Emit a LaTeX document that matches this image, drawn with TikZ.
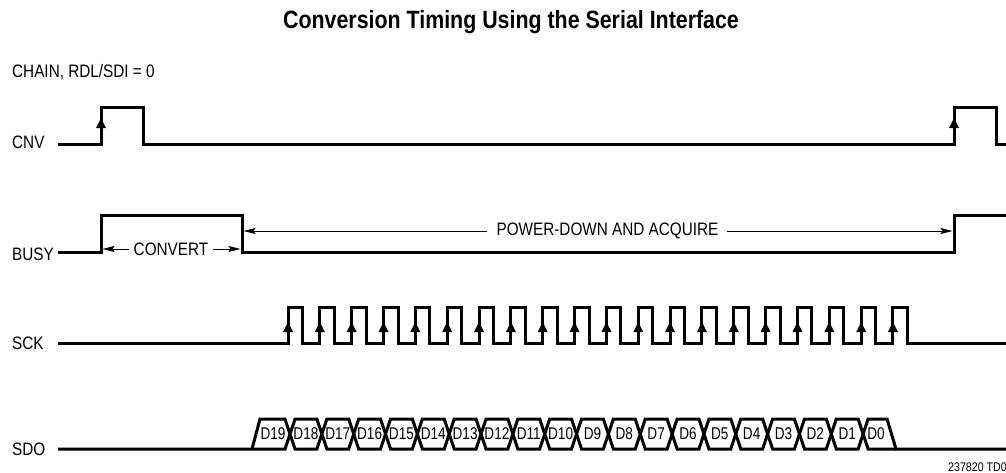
\documentclass[tikz,border=0pt]{standalone}
\usepackage{fontspec}
\setmainfont{Liberation Sans}
\newfontfamily\condf{Liberation Sans}[FakeStretch=0.85]
\newfontfamily\titlef{Liberation Sans}[FakeStretch=0.855]
\newfontfamily\dataf{Liberation Sans}[FakeStretch=0.8]
\usetikzlibrary{arrows.meta}
\begin{document}
\begin{tikzpicture}[x=1pt,y=-1pt,
  sig/.style={line width=3pt, line join=miter},
  dimline/.style={line width=1pt, -{Stealth[length=12pt,width=6pt,inset=2pt]}},
  lbl/.style={anchor=base west, inner sep=0pt, font=\condf\fontsize{18}{20}\selectfont},
  txt/.style={inner sep=0pt, font=\condf\fontsize{18}{20}\selectfont},
  dlbl/.style={inner sep=0pt, font=\dataf\fontsize{17}{18}\selectfont},
  ttl/.style={anchor=base, inner sep=0pt, font=\titlef\bfseries\fontsize{25}{28}\selectfont}]
\useasboundingbox (0,0) rectangle (1006,472);
\clip (0,0) rectangle (1006,472);
\newcommand\redge[2]{\fill (#1,#2) -- ++(-5,10) -- ++(10,0) -- cycle;}

% title and labels
\node[ttl] (title) at (511,28) {Conversion Timing Using the Serial Interface};
\node[lbl] (chain) at (12,77) {CHAIN, RDL/SDI = 0};
\node[lbl] (cnvl) at (12,148) {CNV};
\node[lbl] (busyl) at (12,260) {BUSY};
\node[lbl] (sckl) at (12,349) {SCK};
\node[lbl] (sdol) at (12,455) {SDO};
\node[anchor=base west, inner sep=0pt, font=\condf\fontsize{12.5}{13}\selectfont] (ref) at (948,471) {237820 TD0};

% CNV
\draw[sig] (58,144) -- (101,144) -- (101,107) -- (143,107) -- (143,144) -- (954,144) -- (954,107) -- (996,107) -- (996,144) -- (1010,144);
\redge{101}{118}
\redge{954}{118}

% BUSY
\draw[sig] (58,252) -- (101,252) -- (101,215) -- (242,215) -- (242,252) -- (954,252) -- (954,215) -- (1010,215);
\coordinate (cvL) at (102.5,249);
\coordinate (cvR) at (240.5,249);
\node[txt] (conv) at (171,249) {CONVERT};
\draw[dimline] ([xshift=-5pt]conv.west) -- (cvL);
\draw[dimline] ([xshift=5pt]conv.east) -- (cvR);
\coordinate (pdL) at (243.5,231);
\coordinate (pdR) at (952.5,231);
\node[txt] (pd) at (607.5,231) {POWER-DOWN AND ACQUIRE};
\draw[dimline] ([xshift=-9pt]pd.west) -- (pdL);
\draw[dimline] ([xshift=8pt]pd.east) -- (pdR);

% SCK
\draw[sig] (58,343) foreach \i in {0,...,19} {
  -- ({288+31.84*\i},343) -- ({288+31.84*\i},307) -- ({302.5+31.84*\i},307) -- ({302.5+31.84*\i},343)
} -- (1010,343);
\foreach \i in {0,...,19} { \redge{288+31.84*\i}{322} }

% SDO
\draw[sig] (58,449) -- (285,449) -- (290,434);
\draw[sig] (252,449) -- (260,419) -- (285,419) -- (290,434);
\foreach \k in {1,...,18} {
  \draw[sig] ({290+31.84*(\k-1)},434) -- ({295+31.84*(\k-1)},419) -- ({285+31.84*\k},419) -- ({290+31.84*\k},434)
     -- ({285+31.84*\k},449) -- ({295+31.84*(\k-1)},449) -- cycle;
}
\draw[sig] (863.1,434) -- (868.1,419) -- (887,419) -- (896,449) -- (1010,449);
\draw[sig] (863.1,434) -- (868.1,449) -- (896,449);
\node[dlbl] (d19) at (273,434) {D19};
\foreach \k/\n in {1/18,2/17,3/16,4/15,5/14,6/13,7/12,8/11,9/10,10/9,11/8,12/7,13/6,14/5,15/4,16/3,17/2,18/1} {
  \node[dlbl] (d\n) at ({290+31.84*(\k-0.5)},434) {D\n};
}
\node[dlbl] (d0) at (876,434) {D0};
\end{tikzpicture}
\end{document}
